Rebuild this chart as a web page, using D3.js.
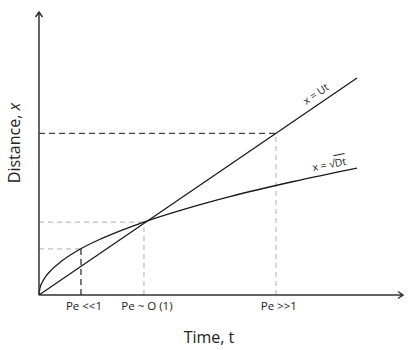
<!doctype html>
<html>
<head>
  <meta charset="utf-8">
  <title>Distance vs time</title>
  <style>
  body{ margin:0; background:#fff; font-family:"Open Sans", sans-serif; }
  svg{ display:block; }
  .curve{ fill:none; stroke:#1a1a1a; stroke-width:1.3; }
  .axis{ stroke:#333; stroke-width:1.5; fill:none; }
  .dark{ stroke:#444; stroke-width:1.4; stroke-dasharray:6,4; }
  .light{ stroke:#bdbdbd; stroke-width:1.2; stroke-dasharray:5,4; }
  .pe{ font-size:11.5px; fill:#222; }
  .title{ font-size:16px; fill:#222; }
  .eq{ font-size:10.5px; fill:#222; }
  </style>
</head>
<body>
  <svg></svg>
  <script src="https://d3js.org/d3.v7.min.js"></script>
  <script>
  var width = 409, height = 350;

  // advective line x = Ut (arbitrary units 0-100)
  var advT = [0, 100];
  var advX = [0, 100];
  // diffusive curve x = sqrt(Dt)
  var difT = [0, 0.3, 1, 2, 4, 7, 13, 20, 33, 45, 60, 80, 100];
  var difX = [0, 3.2, 5.8, 8.3, 11.7, 15.5, 21.2, 26.2, 33.6, 39.2, 45.3, 52.3, 58.5];
  // Peclet markers
  var peLabels = ['Pe <<1', 'Pe ~ O (1)', 'Pe >>1'];
  var peT = [13.2, 33, 74.5];
  var peX = [21.3, 33.6, 74.5];

  var svg = d3.select('svg').attr('width', width).attr('height', height);

  var x = d3.scaleLinear().domain([0, 100]).range([39, 357]);
  var y = d3.scaleLinear().domain([0, 100]).range([295, 78]);

  // dashed guides
  peT.forEach(function(t, i){
    var vcls = i === 0 ? 'dark' : 'light';
    var hcls = i === 2 ? 'dark' : 'light';
    svg.append('line').attr('class', vcls)
      .attr('x1', x(t)).attr('x2', x(t))
      .attr('y1', y(0)).attr('y2', y(peX[i]));
    svg.append('line').attr('class', hcls)
      .attr('x1', x(0)).attr('x2', x(t))
      .attr('y1', y(peX[i])).attr('y2', y(peX[i]));
    svg.append('text').attr('class', 'pe')
      .attr('x', x(t) + 3).attr('y', 310)
      .attr('text-anchor', 'middle')
      .text(peLabels[i]);
  });

  var line = d3.line().x(function(d){ return x(d[0]); }).y(function(d){ return y(d[1]); });

  svg.append('path').attr('class', 'curve')
    .attr('d', line(d3.zip(advT, advX)));
  svg.append('path').attr('class', 'curve')
    .attr('d', line.curve(d3.curveMonotoneX)(d3.zip(difT, difX)));

  // axes with open arrow heads
  var ox = x(0), oy = y(0);
  svg.append('path').attr('class', 'axis')
    .attr('d', 'M' + ox + ',' + oy + 'V12 M' + (ox - 3.5) + ',17 L' + ox + ',12 L' + (ox + 3.5) + ',17');
  svg.append('path').attr('class', 'axis')
    .attr('d', 'M' + ox + ',' + oy + 'H403 M398,' + (oy - 3.5) + ' L403,' + oy + ' L398,' + (oy + 3.5));

  // axis titles
  svg.append('text').attr('class', 'title')
    .attr('text-anchor', 'middle')
    .attr('transform', 'translate(20,143) rotate(-90)')
    .html('Distance, <tspan font-style="italic">x</tspan>');
  svg.append('text').attr('class', 'title')
    .attr('text-anchor', 'middle')
    .attr('x', 209).attr('y', 343)
    .text('Time, t');

  // curve labels
  var angA = Math.atan2(y(0) - y(100), x(100) - x(0)) * 180 / Math.PI;
  svg.append('text').attr('class', 'eq')
    .attr('text-anchor', 'middle')
    .attr('transform', 'translate(318,97) rotate(' + (-angA) + ')')
    .text('x = Ut');
  var eq2 = svg.append('text').attr('class', 'eq')
    .attr('text-anchor', 'middle')
    .attr('transform', 'translate(330,168) rotate(-11)');
  eq2.append('tspan').text('x = \u221A');
  eq2.append('tspan').style('text-decoration', 'overline').text('Dt');
  </script>
</body>
</html>
